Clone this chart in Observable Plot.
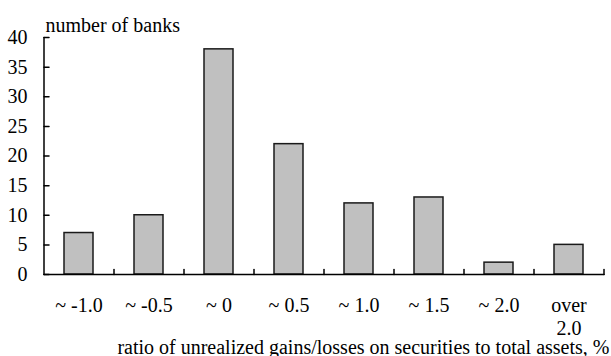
<!DOCTYPE html>
<html>
<head>
<meta charset="utf-8">
<script src="https://cdn.jsdelivr.net/npm/d3@7"></script>
<script src="https://cdn.jsdelivr.net/npm/@observablehq/plot@0.6"></script>
<style>
  html, body { margin: 0; padding: 0; background: #fff; }
  #chart svg { display: block; }
  #chart svg, #chart svg text { font-family: "Liberation Serif", "Times New Roman", serif !important; }
</style>
</head>
<body>
<div id="chart"></div>
<script>
const categories = ["~ -1.0", "~ -0.5", "~ 0", "~ 0.5", "~ 1.0", "~ 1.5", "~ 2.0", "over\n2.0"];
const banks = [7, 10, 38, 22, 12, 13, 2, 5];
const yTicks = [0, 5, 10, 15, 20, 25, 30, 35, 40];
const yTitle = "number of banks";
const xTitle = "ratio of unrealized gains/losses on securities to total assets, %";

const data = categories.map((c, i) => ({category: c, value: banks[i]}));

const W = 611, H = 356;
const mL = 43, mR = 8, mT = 37, mB = 82;
const plotW = W - mL - mR, plotH = H - mT - mB;
const step = plotW / categories.length;
const font = "Liberation Serif, Times New Roman, serif";
const lineShape = {draw(context, l) { context.moveTo(0, 0); context.lineTo(0, -l); }};

const chart = Plot.plot({
  width: W,
  height: H,
  marginLeft: mL,
  marginRight: mR,
  marginTop: mT,
  marginBottom: mB,
  style: {fontFamily: font, fontSize: "20px", color: "#000", background: "#fff"},
  x: {domain: categories, paddingInner: 0.586, paddingOuter: 0.293, axis: null},
  y: {domain: [0, 40], axis: null},
  marks: [
    Plot.barY(data, {x: "category", y: "value", fill: "#c0c0c0", stroke: "#1a1a1a", strokeWidth: 1.5}),
    // axis lines
    Plot.vector([0], {x: () => categories[0], y: d => d, dx: -step / 2, rotate: 0, length: plotH, anchor: "start", shape: lineShape, stroke: "#000", strokeWidth: 1.5}),
    Plot.vector([0], {x: () => categories[0], y: d => d, dx: -step / 2, rotate: 90, length: plotW, anchor: "start", shape: lineShape, stroke: "#000", strokeWidth: 1.5}),
    // inward tick marks
    Plot.vector(yTicks, {x: () => categories[0], y: d => d, dx: -step / 2, rotate: 90, length: 5, anchor: "start", shape: lineShape, stroke: "#000", strokeWidth: 1.5}),
    Plot.vector(categories, {x: d => d, y: () => 0, dx: step / 2, rotate: 0, length: 5, anchor: "start", shape: lineShape, stroke: "#000", strokeWidth: 1.5}),
    // tick labels
    Plot.axisY({ticks: yTicks, tickSize: 0, tickPadding: 16, label: null, fontFamily: font, fontSize: 20, fill: "#000"}),
    Plot.axisX({tickSize: 0, tickPadding: 22, label: null, lineHeight: 1.12, fontFamily: font, fontSize: 20, fill: "#000"}),
    // titles
    Plot.text([yTitle], {text: d => d, frameAnchor: "top-left", textAnchor: "start", lineAnchor: "bottom", dx: 2, dy: -6, fontFamily: font, fontSize: 20, fill: "#000"}),
    Plot.text([xTitle], {text: d => d, frameAnchor: "bottom-right", textAnchor: "end", lineAnchor: "bottom", dx: 6, dy: 79, fontFamily: font, fontSize: 20, fill: "#000"})
  ]
});
document.getElementById("chart").append(chart);
</script>
</body>
</html>
